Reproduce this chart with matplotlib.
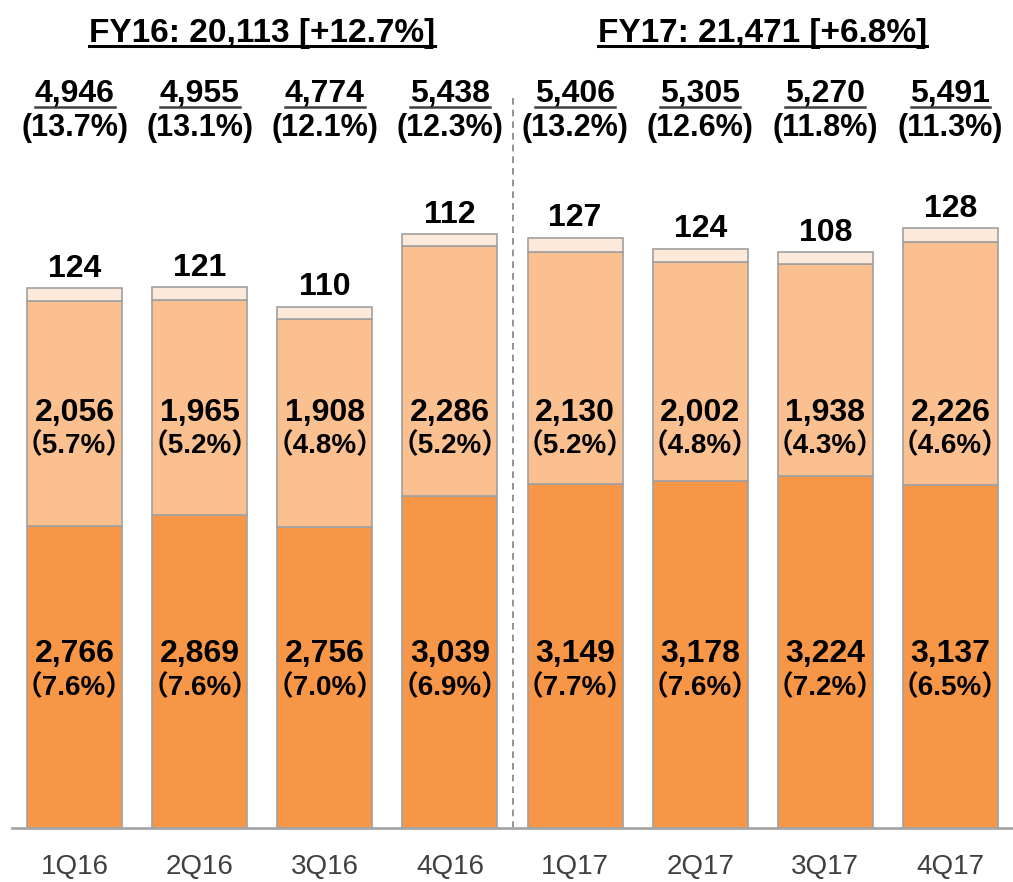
import matplotlib
matplotlib.use('Agg')
import matplotlib.pyplot as plt
from matplotlib.lines import Line2D

# quarterly data
quarters = ['1Q16', '2Q16', '3Q16', '4Q16', '1Q17', '2Q17', '3Q17', '4Q17']
bottom = [2766, 2869, 2756, 3039, 3149, 3178, 3224, 3137]
bottom_pct = ['7.6', '7.6', '7.0', '6.9', '7.7', '7.6', '7.2', '6.5']
middle = [2056, 1965, 1908, 2286, 2130, 2002, 1938, 2226]
middle_pct = ['5.7', '5.2', '4.8', '5.2', '5.2', '4.8', '4.3', '4.6']
top = [124, 121, 110, 112, 127, 124, 108, 128]
totals = [4946, 4955, 4774, 5438, 5406, 5305, 5270, 5491]
total_pct = ['13.7', '13.1', '12.1', '12.3', '13.2', '12.6', '11.8', '11.3']
fy_titles = ['FY16: 20,113 [+12.7%]', 'FY17: 21,471 [+6.8%]']

fam = ['Liberation Sans', 'Noto Sans CJK JP']
plt.rcParams['font.family'] = fam

fig = plt.figure(figsize=(10.13, 8.82), dpi=100)
ax = fig.add_axes([12 / 1013, 54 / 882, 1001 / 1013, 828 / 882])

x = list(range(len(quarters)))
edge = '#A0A0A0'
w = 0.76
ax.bar(x, bottom, width=w, color='#F79646', edgecolor=edge, linewidth=1.2)
ax.bar(x, middle, width=w, bottom=bottom, color='#FAC090', edgecolor=edge, linewidth=1.2)
top_base = [b + m for b, m in zip(bottom, middle)]
ax.bar(x, top, width=w, bottom=top_base, color='#FDE9D9', edgecolor=edge, linewidth=1.2)

ax.set_xlim(-0.5, 7.5)
ax.set_ylim(0, 7582)

for i in x:
    ax.text(i, 1590, f'{bottom[i]:,}', ha='center', va='center', fontsize=23, fontweight='bold')
    ax.text(i, 1280, f'（{bottom_pct[i]}%）', ha='center', va='center', fontsize=20, fontweight='bold')
    ax.text(i, 3800, f'{middle[i]:,}', ha='center', va='center', fontsize=23, fontweight='bold')
    ax.text(i, 3495, f'（{middle_pct[i]}%）', ha='center', va='center', fontsize=20, fontweight='bold')
    ax.annotate(f'{top[i]:,}', (i, totals[i]), xytext=(0, 3), textcoords='offset points',
                ha='center', va='bottom', fontsize=23, fontweight='bold')

tr = ax.get_xaxis_transform()
head_texts = []
for i in x:
    t = ax.text(i, 1 - 102 / 828, f'{totals[i]:,}', transform=tr, ha='center', va='baseline',
                fontsize=23, fontweight='bold')
    head_texts.append(t)
    ax.text(i, 1 - 128 / 828, f'({total_pct[i]}%)', transform=tr, ha='center', va='center',
            fontsize=22, fontweight='bold')

title_texts = []
for cx, s in zip([1.5, 5.5], fy_titles):
    t = ax.text(cx, 1 - 42 / 828, s, transform=tr, ha='center', va='baseline', fontsize=24, fontweight='bold')
    title_texts.append(t)

# divider between the two fiscal years
ax.axvline(3.5, ymin=0, ymax=0.885, color='#808080', linestyle=(0, (4, 3)), linewidth=1.2)

for s in ['top', 'right', 'left']:
    ax.spines[s].set_visible(False)
ax.spines['bottom'].set_color('#A6A6A6')
ax.spines['bottom'].set_linewidth(2)
ax.set_yticks([])
ax.set_xticks(x)
ax.set_xticklabels(quarters, fontsize=20, color='#404040')
ax.tick_params(axis='x', length=0, pad=19)

# underlines under header numbers
fig.canvas.draw()
r = fig.canvas.get_renderer()
H = fig.bbox.height
W = fig.bbox.width
for t, off, lw, col in [(t, 5, 1.8, '#404040') for t in head_texts] + [(t, 4, 2.2, 'black') for t in title_texts]:
    bb = t.get_window_extent(r)
    base = ax.transAxes.transform((0, t.get_position()[1]))[1]
    yy = (base - off) / H
    fig.add_artist(Line2D([bb.x0 / W, bb.x1 / W], [yy, yy], color=col, linewidth=lw))

fig.savefig('out.png', dpi=100)
